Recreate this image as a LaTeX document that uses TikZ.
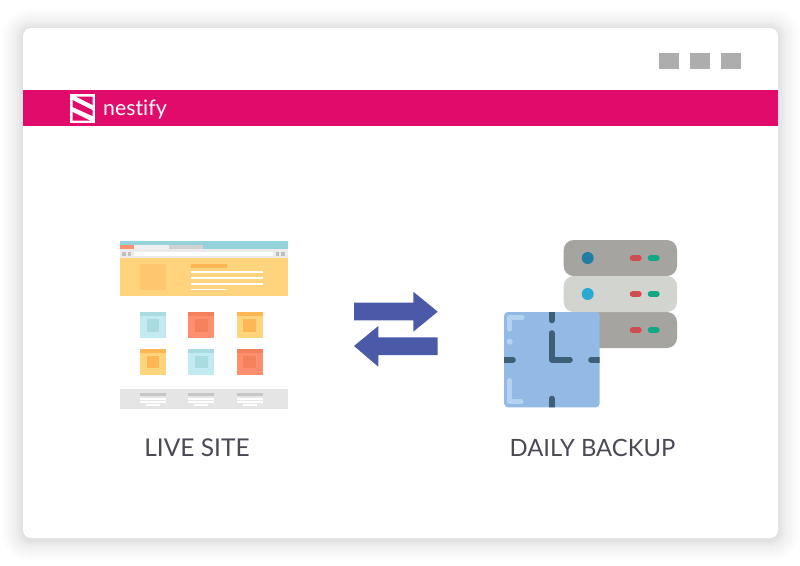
\documentclass[tikz,border=0pt]{standalone}
\usepackage{fontspec}
\setmainfont{Lato}
\definecolor{pinkbar}{HTML}{E00B6A}
\definecolor{wingrey}{HTML}{ADADAD}
\definecolor{teal1}{HTML}{93D3D9}
\definecolor{coral}{HTML}{FF8F6E}
\definecolor{coraldk}{HTML}{F5805C}
\definecolor{sand}{HTML}{FFD47C}
\definecolor{sanddk}{HTML}{FFC670}
\definecolor{sandhd}{HTML}{FFB655}
\definecolor{ice}{HTML}{C3EAF0}
\definecolor{icedk}{HTML}{A9DBE0}
\definecolor{arrowblue}{HTML}{4A5AA8}
\definecolor{srvdark}{HTML}{A5A4A0}
\definecolor{srvlight}{HTML}{D2D4D0}
\definecolor{srvred}{HTML}{CF4C50}
\definecolor{srvgreen}{HTML}{12A885}
\definecolor{leddark}{HTML}{1F7FA3}
\definecolor{ledlight}{HTML}{2AA9D2}
\definecolor{clockbg}{HTML}{92BAE4}
\definecolor{clockdk}{HTML}{3E5F78}
\definecolor{clockhl}{HTML}{B3D3F0}
\definecolor{labelgrey}{HTML}{4A4A55}
\newcommand{\sitecard}[4]{% x, y, main, dark
  \fill[#3] (#1,#2) rectangle ++(26,26);
  \fill[#4] (#1,#2) rectangle ++(26,3.7);
  \fill[#4] (#1+6.7,#2+6.7) rectangle ++(12.6,12.6);
}
\newcommand{\footcol}[1]{% x
  \fill[black!22] (#1,392.7) rectangle ++(26,3);
  \fill[white] (#1,398) rectangle ++(26,1.7);
  \fill[white] (#1,401.3) rectangle ++(26,1.7);
  \fill[white] (#1+6,404) rectangle ++(14,1.7);
}
\newcommand{\pills}[1]{% y
  \draw[pill,draw=srvred] (632.7,#1) -- (638.7,#1);
  \draw[pill,draw=srvgreen] (650.7,#1) -- (656.7,#1);
}
\tikzset{
  pill/.style={line width=6pt,line cap=round},
  tick/.style={line width=5.6pt,line cap=round,clockdk},
  glint/.style={line width=5.2pt,line cap=round,line join=round,clockhl},
  caption/.style={text=labelgrey,inner sep=0pt,anchor=base},
  winbtn/.style={fill=wingrey},
}
\begin{document}
\begin{tikzpicture}[x=1pt,y=-1pt]
\useasboundingbox (0,0) rectangle (800,565);
% soft shadow
\foreach \g in {1,...,22}{
  \fill[black,opacity=0.0045,rounded corners=8+\g] (23-\g,28-\g+2) rectangle (778+\g,538+\g+2);
}
\foreach \g in {1,...,8}{
  \fill[black,opacity=0.004,rounded corners=8+\g] (23-\g,28-\g+1) rectangle (778+\g,538+\g+1);
}
% window
\fill[white,rounded corners=8] (23,28) rectangle (778,538);
\fill[winbtn] (659,53) rectangle (679,69);
\fill[winbtn] (690,53) rectangle (710,69);
\fill[winbtn] (721,53) rectangle (741,69);
\fill[pinkbar] (23,90) rectangle (778,126);
% logo
\fill[white] (70,94) rectangle (95,123);
\fill[pinkbar] (76,96.5) -- (92.5,96.5) -- (92.5,105) -- cycle;
\fill[pinkbar] (72.5,100) -- (92.5,110) -- (92.5,116) -- (72.5,107) -- cycle;
\fill[pinkbar] (72.5,112) -- (90,120.5) -- (72.5,120.5) -- cycle;
\node[font=\addfontfeature{Ligatures=NoCommon}\fontsize{21.3}{26}\selectfont,text=white,inner sep=0pt,anchor=base west] (brand) at (103,115.5) {nestify};
% live site
\fill[teal1] (120,241) rectangle (288,249.3);
\fill[coral] (120,245) rectangle (134,249.3);
\fill[black!6] (134,245) rectangle (169,249.3);
\fill[black!18] (169,245) rectangle (203,249.3);
\fill[black!8] (120,249.3) rectangle (288,257.7);
\fill[white] (134,251.7) rectangle (273,255.7);
\foreach \x in {122.3,127.7,275.7,281}{\fill[black!25] (\x,251.7) rectangle ++(3.6,3.8);}
\fill[sand] (120,257.7) rectangle (288,296);
\fill[sanddk] (140,264) rectangle (166,290);
\fill[sandhd] (191,264) rectangle (227,268);
\fill[white] (191,271) rectangle (263,273);
\fill[white] (191,277) rectangle (263,279);
\fill[white] (191,282.7) rectangle (263,284.7);
\fill[white] (191,288.7) rectangle (227,290.3);
\sitecard{140}{312.3}{ice}{icedk}
\sitecard{188.3}{312.3}{coral}{coraldk}
\sitecard{236.7}{312.3}{sand}{sandhd}
\sitecard{140}{349}{sand}{sandhd}
\sitecard{188.3}{349}{ice}{icedk}
\sitecard{236.7}{349}{coral}{coraldk}
\fill[black!10] (120,389) rectangle (288,409);
\footcol{140}
\footcol{188.3}
\footcol{236.7}
% arrows
\fill[arrowblue] (354,302.7) -- (413.3,302.7) -- (413.3,291.7) -- (437.7,311.7) -- (413.3,331.7) -- (413.3,320.3) -- (354,320.3) -- cycle;
\fill[arrowblue] (437.7,337.3) -- (378.3,337.3) -- (378.3,326) -- (354,346) -- (378.3,366.7) -- (378.3,355) -- (437.7,355) -- cycle;
% servers
\fill[srvdark,rounded corners=10] (563.7,312) rectangle (677,348);
\fill[srvdark,rounded corners=10] (563.7,240) rectangle (677,276);
\fill[srvlight,rounded corners=10] (563.7,276) rectangle (677,312);
\fill[leddark] (587.7,258) circle (6);
\fill[ledlight] (587.7,294) circle (6);
\pills{258}
\pills{294}
\pills{330}
% clock
\fill[clockbg,rounded corners=4] (504,312) rectangle (599.7,407.3);
\begin{scope}
\clip[rounded corners=4] (504,312) rectangle (599.7,407.3);
\draw[tick] (551.7,308) -- (551.7,320.5);
\draw[tick] (551.7,398.5) -- (551.7,411);
\draw[tick] (500,359.7) -- (513,359.7);
\draw[tick] (591,359.7) -- (604,359.7);
\end{scope}
\draw[tick,line join=round] (551.7,333) -- (551.7,359.7) -- (570,359.7);
\draw[glint] (522,317.7) -- (509.7,317.7) -- (509.7,329);
\fill[clockhl] (509.7,341.7) circle (3);
\draw[glint] (509.7,380.5) -- (509.7,401.7) -- (521,401.7);
% captions
\node[caption,font=\fontsize{24.5}{28}\selectfont] (live) at (197,456.5) {LIVE SITE};
\node[caption,font=\fontsize{23.8}{28}\selectfont] (backup) at (592.5,456.5) {DAILY BACKUP};
\end{tikzpicture}
\end{document}
